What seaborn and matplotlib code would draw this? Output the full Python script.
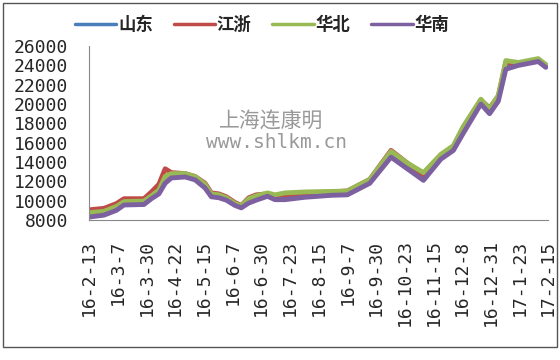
import pandas as pd
import matplotlib.pyplot as plt
import seaborn as sns
from matplotlib.patches import Rectangle

dates = ["2016-02-13", "2016-02-25", "2016-03-06", "2016-03-12", "2016-03-28",
         "2016-04-03", "2016-04-09", "2016-04-14", "2016-04-19", "2016-04-30",
         "2016-05-08", "2016-05-16", "2016-05-21", "2016-05-27", "2016-06-02",
         "2016-06-09", "2016-06-14", "2016-06-20", "2016-06-26", "2016-07-05",
         "2016-07-11", "2016-07-19", "2016-08-04", "2016-08-25", "2016-09-07",
         "2016-09-25", "2016-10-12", "2016-10-25", "2016-11-07", "2016-11-21",
         "2016-12-01", "2016-12-09", "2016-12-23", "2016-12-30", "2017-01-06",
         "2017-01-12", "2017-01-22", "2017-02-07", "2017-02-13"]
shandong = [8550, 8700, 9200, 9700, 9750, 10350, 10900, 12100, 12600, 12650,
            12300, 11500, 10550, 10450, 10200, 9600, 9350, 9950, 10250, 10600,
            10300, 10400, 10600, 10750, 10800, 12000, 14800, 13600, 12500, 14500,
            15400, 17300, 20200, 19300, 20600, 24000, 24100, 24500, 23900]
jiangzhe = [9050, 9200, 9700, 10200, 10200, 10900, 11700, 13300, 12900, 12800,
            12500, 11800, 10800, 10700, 10400, 9800, 9500, 10300, 10600, 10700,
            10500, 10600, 10800, 10900, 11000, 12200, 15200, 13900, 12700, 14700,
            15600, 17600, 20400, 19600, 20800, 24300, 24200, 24600, 24000]
huabei = [8750, 8900, 9400, 9900, 9950, 10500, 11100, 12500, 12800, 12800,
          12500, 11700, 10700, 10600, 10300, 9700, 9450, 10200, 10500, 10800,
          10600, 10800, 10900, 10950, 11000, 12200, 15100, 13900, 12900, 14800,
          15700, 17700, 20500, 19500, 20900, 24500, 24300, 24700, 24100]
huanan = [8300, 8500, 9000, 9550, 9600, 10200, 10700, 11800, 12350, 12450,
          12150, 11300, 10400, 10300, 10050, 9500, 9250, 9750, 10050, 10450,
          10100, 10100, 10350, 10550, 10600, 11800, 14500, 13300, 12100, 14300,
          15200, 17000, 20000, 19000, 20300, 23600, 24000, 24400, 23800]

regions = ["山东", "江浙", "华北", "华南"]
colors = ["#4A7EBB", "#BE4B48", "#98B954", "#7D60A0"]
tick_labels = ["16-2-13", "16-3-7", "16-3-30", "16-4-22", "16-5-15", "16-6-7",
               "16-6-30", "16-7-23", "16-8-15", "16-9-7", "16-9-30", "16-10-23",
               "16-11-15", "16-12-8", "16-12-31", "17-1-23", "17-2-15"]

df = pd.DataFrame({"date": pd.to_datetime(dates), "山东": shandong, "江浙": jiangzhe,
                   "华北": huabei, "华南": huanan})
df = df.melt(id_vars="date", var_name="region", value_name="price")

sns.set_style("white")
plt.rcParams["font.family"] = ["DejaVu Sans Mono", "Noto Sans CJK SC"]

fig = plt.figure(figsize=(5.6, 3.6), dpi=100)
ax = fig.add_axes([0.159, 0.389, 0.820, 0.483])
sns.lineplot(data=df, x="date", y="price", hue="region", hue_order=regions,
             palette=dict(zip(regions, colors)), linewidth=3.5, ax=ax)

ticks = pd.date_range("2016-02-13", periods=len(tick_labels), freq="23D")
ax.set_xlim(ticks[0], ticks[-1])
ax.set_xticks(ticks)
ax.set_xticklabels(tick_labels, rotation=90, fontsize=13)
ax.set_ylim(8000, 26000)
ax.set_yticks(range(8000, 26001, 2000))
ax.tick_params(axis="y", labelsize=13, pad=15)
ax.tick_params(direction="in", length=3, color="#888888", width=1)
ax.tick_params(axis="x", pad=14)
ax.set_xlabel("")
ax.set_ylabel("")
sns.despine(ax=ax)
for s in ["left", "bottom"]:
    ax.spines[s].set_color("#888888")

handles, labels = ax.get_legend_handles_labels()
ax.get_legend().remove()
for h in handles:
    h.set_linewidth(2.5)
fig.legend(handles, labels, loc="center", bbox_to_anchor=(0.468, 0.93), ncol=4,
           frameon=False, handlelength=2.4, handletextpad=0.1, columnspacing=1.2,
           prop={"family": "Noto Sans CJK SC", "size": 12.5, "weight": "bold"})

fig.text(0.484, 0.661, "上海连康明", family="Noto Sans CJK SC", fontsize=15,
         color="#999999", ha="center", va="center")
fig.text(0.493, 0.603, "www.shlkm.cn", family="DejaVu Sans Mono", fontsize=14,
         color="#999999", ha="center", va="center")

fig.add_artist(Rectangle((0.005, 0.036), 0.99, 0.956, transform=fig.transFigure,
                         fill=False, edgecolor="#555555", linewidth=1))

plt.savefig("out.png", dpi=100)
